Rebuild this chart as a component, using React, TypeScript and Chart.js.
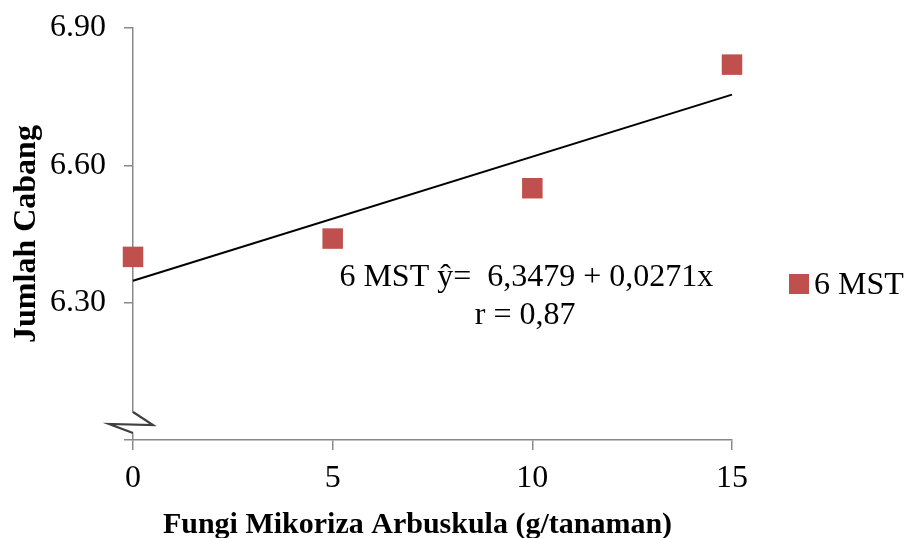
import React, { useEffect, useRef } from "react";
import { Chart, registerables } from "chart.js";

Chart.register(...registerables);

// ---- data ----
const doses = [0, 5, 10, 15];
const jumlahCabang = [6.40, 6.44, 6.55, 6.82];
const yTickValues = [6.0, 6.3, 6.6, 6.9];
const xTickValues = [0, 5, 10, 15];
const regIntercept = 6.3479;
const regSlope = 0.0271;
const seriesLabel = "6 MST";
const equationLine1 = "6 MST \u0177=  6,3479 + 0,0271x";
const equationLine2 = "r = 0,87";
const xTitle = "Fungi Mikoriza Arbuskula (g/tanaman)";
const yTitle = "Jumlah Cabang";

const FONT = "'Liberation Serif', 'Times New Roman', serif";
const MARKER = "#C0504D";
const AXIS = "#898989";

const overlayPlugin = {
  id: "overlay",
  afterDraw(chart: any) {
    const ctx = chart.ctx;
    const xs = chart.scales.x;
    const ys = chart.scales.y;
    const ax = xs.getPixelForValue(xTickValues[0]);
    const yb = ys.getPixelForValue(yTickValues[0]);
    ctx.save();
    // axis break symbol
    ctx.fillStyle = "#ffffff";
    ctx.fillRect(ax - 3, yb - 27, 6, 20);
    ctx.strokeStyle = "#404040";
    ctx.lineWidth = 2.2;
    ctx.lineJoin = "miter";
    ctx.beginPath();
    ctx.moveTo(ax, yb - 28);
    ctx.lineTo(ax + 20, yb - 15);
    ctx.lineTo(ax - 24, yb - 16);
    ctx.lineTo(ax, yb - 7);
    ctx.stroke();

    // x axis title
    ctx.fillStyle = "#000";
    ctx.font = `bold 30px ${FONT}`;
    ctx.textAlign = "center";
    ctx.textBaseline = "alphabetic";
    ctx.fillText(xTitle, (chart.chartArea.left + chart.chartArea.right) / 2 - 15, 533);

    // regression equation
    ctx.font = `32px ${FONT}`;
    ctx.fillText(equationLine1, xs.getPixelForValue(9.85), ys.getPixelForValue(6.3365));
    ctx.fillText(equationLine2, xs.getPixelForValue(9.82), ys.getPixelForValue(6.254));

    // legend
    const lx = chart.chartArea.right + 57;
    const ly = 284;
    ctx.fillStyle = MARKER;
    ctx.fillRect(lx, ly - 10, 20, 20);
    ctx.fillStyle = "#000";
    ctx.textAlign = "left";
    ctx.fillText(seriesLabel, lx + 25, ly + 10);
    ctx.restore();
  },
};

export default function App() {
  const ref = useRef<HTMLCanvasElement | null>(null);

  useEffect(() => {
    if (!ref.current) return;
    const trend = [
      { x: doses[0], y: regIntercept + regSlope * doses[0] },
      { x: doses[doses.length - 1], y: regIntercept + regSlope * doses[doses.length - 1] },
    ];
    const chart = new Chart(ref.current, {
      type: "scatter",
      data: {
        datasets: [
          {
            type: "line",
            label: "trend",
            data: trend,
            borderColor: "#000",
            borderWidth: 2,
            pointRadius: 0,
            showLine: true,
            fill: false,
            order: 2,
            clip: false,
          } as any,
          {
            label: seriesLabel,
            data: doses.map((d, i) => ({ x: d, y: jumlahCabang[i] })),
            pointStyle: "rect",
            pointRadius: 14.5,
            backgroundColor: MARKER,
            borderWidth: 0,
            order: 1,
            clip: false,
          } as any,
        ],
      },
      options: {
        animation: false,
        responsive: false,
        maintainAspectRatio: false,
        events: [],
        layout: { padding: { left: 0, right: 174, top: 28, bottom: 0 } },
        plugins: {
          legend: { display: false },
          tooltip: { enabled: false },
        },
        scales: {
          x: {
            type: "linear",
            min: 0,
            max: 15,
            afterBuildTicks: (s: any) => {
              s.ticks = xTickValues.map((v) => ({ value: v }));
            },
            afterFit: (s: any) => {
              s.height = 98;
              s.paddingRight = 0;
              s.paddingLeft = 0;
            },
            ticks: {
              font: { family: FONT, size: 32 },
              color: "#000",
              padding: 9,
              maxRotation: 0,
            },
            grid: { drawOnChartArea: false, tickLength: 10, color: AXIS, lineWidth: 1.5 },
            border: { color: AXIS, width: 1.5 },
          },
          y: {
            type: "linear",
            min: 6.0,
            max: 6.9,
            afterBuildTicks: (s: any) => {
              s.ticks = yTickValues.map((v) => ({ value: v }));
            },
            afterFit: (s: any) => {
              s.width = 133;
              s.paddingTop = 0;
              s.paddingBottom = 0;
            },
            ticks: {
              font: { family: FONT, size: 32 },
              color: "#000",
              padding: 18,
              callback: (v: any) => (Math.abs(Number(v) - yTickValues[0]) < 1e-9 ? "" : Number(v).toFixed(2)),
            },
            grid: { drawOnChartArea: false, tickLength: 9, color: AXIS, lineWidth: 1.5 },
            border: { color: AXIS, width: 1.5 },
            title: {
              display: true,
              text: yTitle,
              color: "#000",
              font: { family: FONT, size: 32, weight: "bold" },
              padding: { top: 8, bottom: 0 },
            },
          },
        },
      },
      plugins: [overlayPlugin],
    });
    return () => chart.destroy();
  }, []);

  return (
    <div style={{ position: "absolute", left: 0, top: 0, width: 906, height: 538, background: "#fff" }}>
      <canvas ref={ref} width={906} height={538} style={{ width: 906, height: 538, display: "block" }} />
    </div>
  );
}
